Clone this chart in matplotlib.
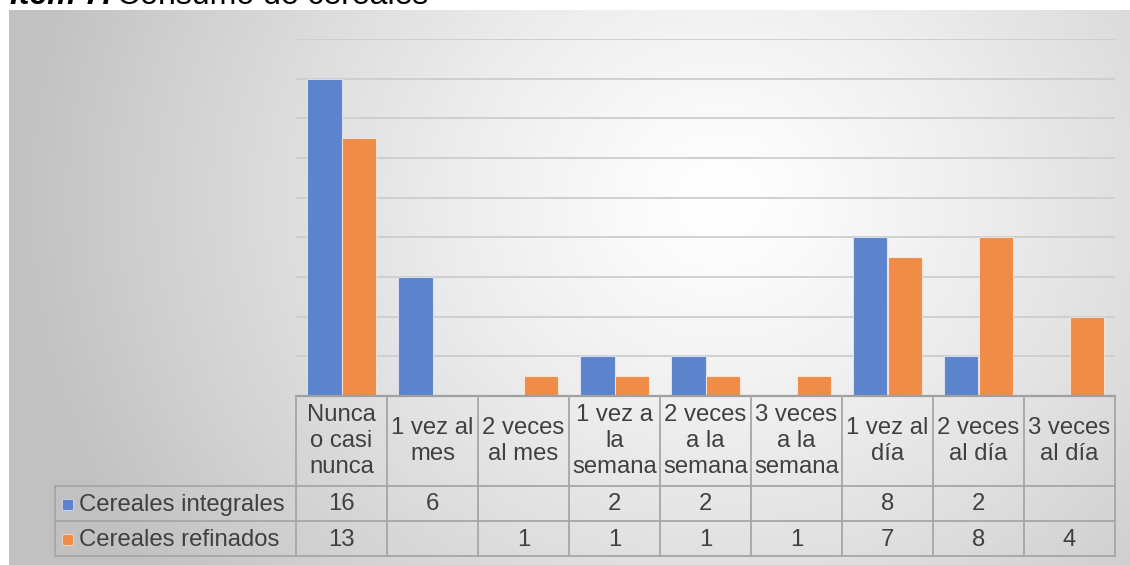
import numpy as np
import matplotlib
matplotlib.use("Agg")
import matplotlib.pyplot as plt
from matplotlib.transforms import blended_transform_factory
from matplotlib.patches import Rectangle

plt.rcParams['font.family'] = ['Liberation Sans', 'DejaVu Sans']

categories = ["Nunca\no casi\nnunca", "1 vez al\nmes", "2 veces\nal mes",
              "1 vez a\nla\nsemana", "2 veces\na la\nsemana", "3 veces\na la\nsemana",
              "1 vez al\ndía", "2 veces\nal día", "3 veces\nal día"]
integrales = [16, 6, None, 2, 2, None, 8, 2, None]
refinados = [13, None, 1, 1, 1, 1, 7, 8, 4]
series_names = ["Cereales integrales", "Cereales refinados"]
colors = ["#5B84CC", "#EE8C48"]

W, H = 1130, 565
fig = plt.figure(figsize=(W / 100, H / 100), dpi=100)
fig.patch.set_facecolor("white")

# soft radial gradient behind the chart
bg = fig.add_axes([9 / W, 0, 1 - 9 / W, 1 - 10 / H])
bg.set_axis_off()
yy, xx = np.mgrid[0:555, 0:1121]
cx, cy = 720, 200
d = np.sqrt(((xx + 9 - cx) / 1.0) ** 2 + ((yy + 10 - cy) / 0.9) ** 2)
g = 1.0 - 0.24 * np.clip(d / 700, 0, 1) ** 1.25
bg.imshow(np.dstack([g, g, g]), aspect="auto", extent=[0, 1, 0, 1], vmin=0, vmax=1)
bg.set_xlim(0, 1)
bg.set_ylim(0, 1)

# bar chart
ax = fig.add_axes([296 / W, 1 - 396 / H, (1115 - 296) / W, (396 - 39) / H])
ax.patch.set_alpha(0)
n = len(categories)
x = np.arange(n)
bw = 0.374
for k, (vals, col) in enumerate(zip([integrales, refinados], colors)):
    v = np.array([np.nan if a is None else a for a in vals], dtype=float)
    ax.bar(x + (k - 0.5) * bw, np.nan_to_num(v), width=bw, color=col,
           edgecolor=(1, 1, 1, 0.6), linewidth=0.8, zorder=3)
ax.set_xlim(-0.5, n - 0.5)
ax.set_ylim(0, 18)
ax.set_yticks(np.arange(2, 19, 2))
ax.yaxis.grid(True, color="#CDCDCD", linewidth=1.3)
ax.tick_params(left=False, bottom=False, labelleft=False, labelbottom=False)
for s in ["top", "right", "left"]:
    ax.spines[s].set_visible(False)
ax.spines["bottom"].set_color("#A0A0A0")
ax.spines["bottom"].set_linewidth(1.6)
ax.spines["bottom"].set_zorder(4)

# data table under the plot (rows in pixel units, columns follow the category axis)
tab = fig.add_axes([0, 0, 1, 1])
tab.set_axis_off()
tab.set_xlim(0, W)
tab.set_ylim(H, 0)
tr = blended_transform_factory(ax.transData, tab.transData)
lc = "#A6A6A6"
lw = 1.3
y_head, y_r1, y_r2, y_bot = 396, 486, 521, 556
for i in range(n + 1):
    tab.plot([i - 0.5, i - 0.5], [y_head, y_bot], color=lc, lw=lw, transform=tr)
x_end = tab.transData.inverted().transform(ax.transData.transform((n - 0.5, 0)))[0]
for yv in [y_r1, y_r2, y_bot]:
    tab.plot([55, x_end], [yv, yv], color=lc, lw=lw)
tab.plot([55, 55], [y_r1, y_bot], color=lc, lw=lw)

txt = "#404040"
fs = 17.2
for i, c in enumerate(categories):
    tab.text(i, (y_head + y_r1) / 2, c, ha="center", va="center",
             fontsize=fs, color=txt, linespacing=1.23, transform=tr)
for vals, ymid in [(integrales, (y_r1 + y_r2) / 2), (refinados, (y_r2 + y_bot) / 2)]:
    for i, v in enumerate(vals):
        if v is not None:
            tab.text(i, ymid + 1, str(v), ha="center", va="center",
                     fontsize=fs, color=txt, transform=tr)
for name, col, ymid in zip(series_names, colors, [(y_r1 + y_r2) / 2, (y_r2 + y_bot) / 2]):
    tab.add_patch(Rectangle((62, ymid - 5), 11, 11, facecolor=col,
                            edgecolor=(1, 1, 1, 0.6), lw=0.6))
    tab.text(79, ymid + 1, name, ha="left", va="center", fontsize=fs, color=txt)

# title, mostly above the top edge
t1 = fig.text(10 / W, 1 - 3.5 / H, "Ítem 7.", fontsize=23, fontweight="bold",
              fontstyle="italic", color="#000000", va="baseline", ha="left")
fig.canvas.draw()
bb = t1.get_window_extent()
fig.text((bb.x1 + 6) / W, 1 - 3.5 / H, "Consumo de cereales", fontsize=23,
         color="#000000", va="baseline", ha="left")

fig.savefig("out.png", dpi=100)
